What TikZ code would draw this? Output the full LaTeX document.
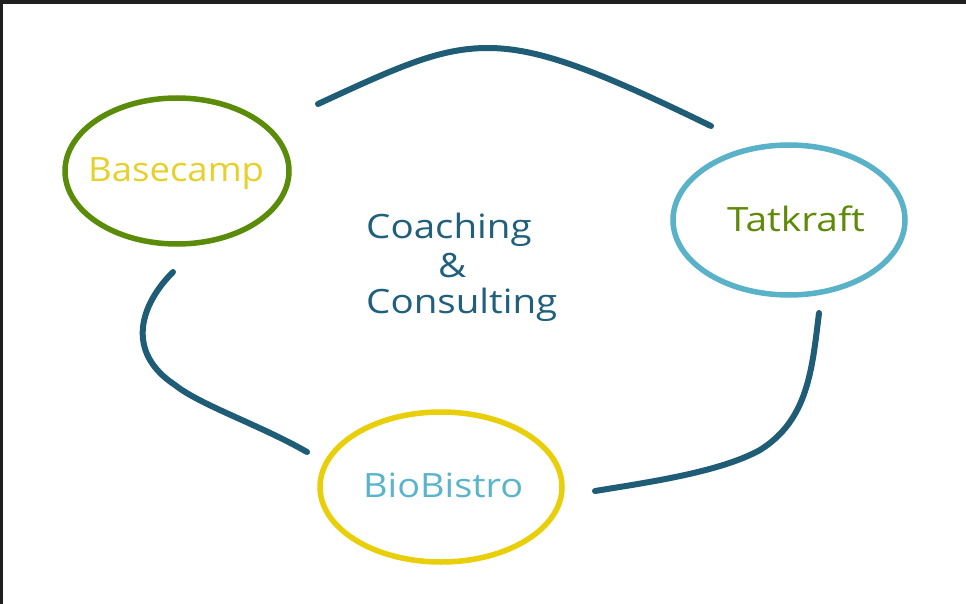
\documentclass[tikz,border=0pt]{standalone}
\usepackage{fontspec}
\setmainfont{Open Sans}
\definecolor{frame}{HTML}{1F1F1F}
\definecolor{linkc}{HTML}{1F5C75}
\definecolor{greenc}{HTML}{5A8C0A}
\definecolor{yellowc}{HTML}{E8CF0A}
\definecolor{bluec}{HTML}{5AB2C8}
\definecolor{textyellow}{HTML}{E6D02A}
\definecolor{texttatk}{HTML}{5E8A08}
\definecolor{textblue}{HTML}{5AB4CC}
\definecolor{textteal}{HTML}{20607C}
\newcommand{\wide}[2]{\scalebox{#1}[1]{#2}}
\begin{document}
\begin{tikzpicture}[x=1pt,y=-1pt,
  ring/.style={line width=5.5pt},
  link/.style={draw=linkc,line width=6pt,line cap=round},
  lbl/.style={font=\fontsize{33.5}{40}\selectfont,inner sep=0pt,anchor=base west}]
\useasboundingbox (0,0) rectangle (966,604);
\fill[white] (0,0) rectangle (966,604);
\fill[frame] (0,0) rectangle (966,4);
\fill[frame] (0,0) rectangle (3,604);
% rings
\draw[ring,greenc] (177,171) ellipse [x radius=112, y radius=73];
\draw[ring,bluec] (789,220) ellipse [x radius=116, y radius=75];
\draw[ring,yellowc] (441,487) ellipse [x radius=121, y radius=75];
% labels
\node[lbl,text=textyellow] (base) at (88,182) {\wide{1.09}{Basecamp}};
\node[lbl,text=texttatk] (tat) at (727,232) {\wide{1.16}{Tatkraft}};
\node[lbl,text=textblue] (bio) at (363,497) {\wide{1.13}{BioBistro}};
\node[lbl,text=textteal] (cc1) at (366,238) {\wide{1.15}{Coaching}};
\node[lbl,text=textteal] (cc2) at (438,277) {\wide{1.15}{\&}};
\node[lbl,text=textteal] (cc3) at (366,313) {\wide{1.15}{Consulting}};
% connectors
\coordinate (a1) at (318,104);
\coordinate (a2) at (488,48);
\coordinate (a3) at (711,126);
\draw[link] (a1) .. controls (400,66) and (440,48) .. (a2) .. controls (540,48) and (600,72) .. (a3);
\coordinate (b1) at (173,272);
\coordinate (b2) at (175,385);
\coordinate (b3) at (307,452);
\draw[link] (b1) .. controls (140,305) and (125,352) .. (b2) .. controls (200,405) and (260,425) .. (b3);
\coordinate (c1) at (819,313);
\coordinate (c2) at (760,450);
\coordinate (c3) at (595,491);
\draw[link] (c1) .. controls (812,370) and (808,420) .. (c2) .. controls (720,472) and (650,482) .. (c3);
\end{tikzpicture}
\end{document}
